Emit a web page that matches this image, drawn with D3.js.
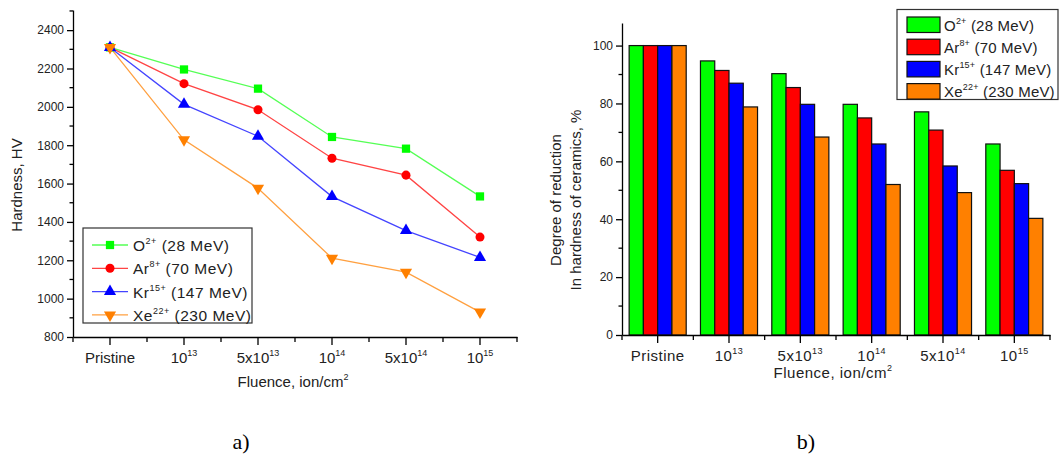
<!DOCTYPE html>
<html>
<head>
<meta charset="utf-8">
<script src="https://cdn.jsdelivr.net/npm/d3@7"></script>
<style>
  body { margin: 0; background: #fff; }
  svg { font-family: "Liberation Sans", Arial, sans-serif; }
  .axis path, .axis line { stroke: #000; stroke-width: 1.3; }
  .axis text { fill: #222; }
</style>
</head>
<body>
<div id="chart"></div>
<script>
// categories (fluence) and tick labels
var categories = ["Pristine", "1e13", "5e13", "1e14", "5e14", "1e15"];
var tickBase = ["Pristine", "10", "5x10", "10", "5x10", "10"];
var tickExp = ["", "13", "13", "14", "14", "15"];

// ions
var ions = ["O", "Ar", "Kr", "Xe"];
var charges = ["2+", "8+", "15+", "22+"];
var energies = ["(28 MeV)", "(70 MeV)", "(147 MeV)", "(230 MeV)"];
var colors = ["#00ff00", "#ff0000", "#0000ff", "#ff8000"];
var lineColors = ["#55ff55", "#ff4444", "#4444ff", "#ffa040"];

// a) hardness, HV
var hardO  = [2310, 2195, 2095, 1843, 1782, 1533];
var hardAr = [2310, 2121, 1985, 1732, 1644, 1321];
var hardKr = [2310, 2013, 1847, 1532, 1355, 1215];
var hardXe = [2310, 1828, 1576, 1211, 1138, 930];

// b) degree of reduction, %
var redO  = [100, 94.7, 90.3, 79.7, 77.1, 66.0];
var redAr = [100, 91.4, 85.5, 75.0, 70.8, 56.9];
var redKr = [100, 87.0, 79.7, 66.0, 58.4, 52.3];
var redXe = [100, 78.8, 68.4, 52.0, 49.2, 40.3];

var hardness = [hardO, hardAr, hardKr, hardXe];
var reduction = [redO, redAr, redKr, redXe];

var svg = d3.select("#chart").append("svg")
  .attr("width", 1060)
  .attr("height", 460);

// superscript label helper
function supText(sel, base, exp, baseSize, expSize) {
  sel.text(null);
  sel.append("tspan").attr("font-size", baseSize).text(base);
  if (exp) {
    sel.append("tspan").attr("font-size", expSize).attr("dy", -7).text(exp);
  }
}

function xAxisWithLabels(g, x, y0, spacing) {
  // major ticks at centers (band axis already centres them)
  var major = d3.axisBottom(x).tickSize(8).tickSizeOuter(0).tickFormat("");
  var ga = g.append("g").attr("class", "axis")
    .attr("transform", "translate(0," + y0 + ")").call(major);
  ga.selectAll(".tick").each(function(d, i) {
    var t = d3.select(this).append("text")
      .attr("x", 0)
      .attr("y", 26)
      .attr("text-anchor", "middle")
      .attr("fill", "#222")
      .style("letter-spacing", spacing);
    supText(t, tickBase[i], tickExp[i], "15px", "9px");
  });
  // minor ticks at band edges
  var edges = categories.map(function(c) { return x(c); }).concat([x.range()[1]]);
  ga.selectAll(".minor").data(edges).enter().append("line")
    .attr("class", "minor")
    .attr("x1", function(d) { return d; }).attr("x2", function(d) { return d; })
    .attr("y1", 0).attr("y2", 5);
  return ga;
}

function yAxisMinor(g, y, x0, values) {
  g.append("g").attr("class", "axis")
    .selectAll("line").data(values).enter().append("line")
    .attr("x1", x0).attr("x2", x0 - 3.5)
    .attr("y1", function(d) { return y(d); })
    .attr("y2", function(d) { return y(d); });
}

// ---------------- a) line chart ----------------
var A = { left: 73, right: 517, top: 10, bottom: 337 };
var xa = d3.scaleBand().domain(categories).range([A.left, A.right]).padding(0);
var ya = d3.scaleLinear().domain([800, 2505]).range([A.bottom, A.top]);

var ga = svg.append("g");
ga.append("g").attr("class", "axis")
  .attr("transform", "translate(" + A.left + ",0)")
  .call(d3.axisLeft(ya).tickValues(d3.range(800, 2401, 200)).tickFormat(d3.format("d"))
    .tickSize(6).tickSizeOuter(0))
  .call(function(s) { s.selectAll("text").style("font-size", "12px"); });
yAxisMinor(ga, ya, A.left, d3.range(900, 2501, 200));
xAxisWithLabels(ga, xa, A.bottom, "0px");

var line = d3.line()
  .x(function(d, i) { return xa(categories[i]) + xa.bandwidth() / 2; })
  .y(function(d) { return ya(d); });

var symbols = [
  d3.symbol().type(d3.symbolSquare).size(68),
  d3.symbol().type(d3.symbolCircle).size(64),
  d3.symbol().type(d3.symbolTriangle).size(64),
  d3.symbol().type(d3.symbolTriangle).size(64)
];

hardness.forEach(function(series, k) {
  ga.append("path")
    .attr("d", line(series))
    .attr("fill", "none")
    .attr("stroke", lineColors[k])
    .attr("stroke-width", 1.3);
});
hardness.forEach(function(series, k) {
  ga.selectAll(".m" + k).data(series).enter().append("path")
    .attr("d", symbols[k])
    .attr("fill", colors[k])
    .attr("transform", function(d, i) {
      var t = "translate(" + (xa(categories[i]) + xa.bandwidth() / 2) + "," + ya(d) + ")";
      return k === 3 ? t + " rotate(180)" : t;
    });
});

ga.append("text")
  .attr("transform", "translate(22,185) rotate(-90)")
  .attr("text-anchor", "middle")
  .style("font-size", "15px")
  .attr("fill", "#222")
  .text("Hardness, HV");

var fa = ga.append("text")
  .attr("x", 293).attr("y", 387)
  .attr("text-anchor", "middle")
  .attr("fill", "#222");
supText(fa, "Fluence, ion/cm", "2", "15px", "9px");

// legend a
var la = ga.append("g");
la.append("rect")
  .attr("x", 83).attr("y", 228).attr("width", 169).attr("height", 95)
  .attr("fill", "#fff").attr("stroke", "#333").attr("stroke-width", 1.2);
ions.forEach(function(ion, k) {
  var yy = 245 + k * 23.3;
  la.append("line").attr("x1", 92).attr("x2", 128).attr("y1", yy).attr("y2", yy)
    .attr("stroke", lineColors[k]).attr("stroke-width", 1.3);
  la.append("path").attr("d", symbols[k]).attr("fill", colors[k])
    .attr("transform", "translate(110," + yy + ")" + (k === 3 ? " rotate(180)" : ""));
  var t = la.append("text").attr("x", 133).attr("y", yy + 6).attr("fill", "#222")
    .style("letter-spacing", "0.5px");
  t.append("tspan").attr("font-size", "15.5px").text(ion);
  t.append("tspan").attr("font-size", "9px").attr("dy", -7).text(charges[k]);
  t.append("tspan").attr("font-size", "15.5px").attr("dy", 7).text(" " + energies[k]);
});

// ---------------- b) bar chart ----------------
var B = { left: 622, right: 1050, top: 23, bottom: 335 };
var xb = d3.scaleBand().domain(categories).range([B.left, B.right]).padding(0);
var xi = d3.scaleBand().domain(ions).range([0, xb.bandwidth()]).paddingInner(0).paddingOuter(0.5);
var yb = d3.scaleLinear().domain([0, 107.8]).range([B.bottom, B.top]);

var gb = svg.append("g");
categories.forEach(function(c, i) {
  ions.forEach(function(ion, k) {
    gb.append("rect")
      .attr("x", xb(c) + xi(ion))
      .attr("y", yb(reduction[k][i]))
      .attr("width", xi.bandwidth())
      .attr("height", yb(0) - yb(reduction[k][i]))
      .attr("fill", colors[k])
      .attr("stroke", "#111")
      .attr("stroke-width", 1.2);
  });
});

gb.append("g").attr("class", "axis")
  .attr("transform", "translate(" + B.left + ",0)")
  .call(d3.axisLeft(yb).tickValues(d3.range(0, 101, 20)).tickSize(6).tickSizeOuter(0))
  .call(function(s) { s.selectAll("text").style("font-size", "12px"); });
yAxisMinor(gb, yb, B.left, d3.range(10, 101, 20));
xAxisWithLabels(gb, xb, B.bottom, "0.5px");

gb.append("text")
  .attr("transform", "translate(561,200) rotate(-90)")
  .attr("text-anchor", "middle")
  .style("font-size", "15px")
  .attr("fill", "#222")
  .text("Degree of reduction");
gb.append("text")
  .attr("transform", "translate(581,200) rotate(-90)")
  .attr("text-anchor", "middle")
  .style("font-size", "15px")
  .attr("fill", "#222")
  .text("In hardness of ceramics, %");

var fb = gb.append("text")
  .attr("x", 833).attr("y", 378)
  .attr("text-anchor", "middle")
  .attr("fill", "#222")
  .style("letter-spacing", "0.5px");
supText(fb, "Fluence, ion/cm", "2", "15px", "9px");

// legend b
var lb = gb.append("g");
lb.append("rect")
  .attr("x", 897).attr("y", 9.5).attr("width", 161).attr("height", 90)
  .attr("fill", "#fff").attr("stroke", "#333").attr("stroke-width", 1.2);
ions.forEach(function(ion, k) {
  var yy = 17 + k * 22.2;
  lb.append("rect").attr("x", 907).attr("y", yy).attr("width", 33).attr("height", 15.5)
    .attr("fill", colors[k]).attr("stroke", "#111").attr("stroke-width", 1.2);
  var t = lb.append("text").attr("x", 944).attr("y", yy + 13.5).attr("fill", "#222")
    .style("letter-spacing", "0.2px");
  t.append("tspan").attr("font-size", "15px").text(ion);
  t.append("tspan").attr("font-size", "9px").attr("dy", -7).text(charges[k]);
  t.append("tspan").attr("font-size", "15px").attr("dy", 7).text(" " + energies[k]);
});

// panel labels
svg.append("text").attr("x", 241).attr("y", 449).attr("text-anchor", "middle")
  .style("font-family", "'Liberation Serif', 'Times New Roman', serif")
  .style("font-size", "22px").text("a)");
svg.append("text").attr("x", 806).attr("y", 449).attr("text-anchor", "middle")
  .style("font-family", "'Liberation Serif', 'Times New Roman', serif")
  .style("font-size", "22px").text("b)");
</script>
</body>
</html>
